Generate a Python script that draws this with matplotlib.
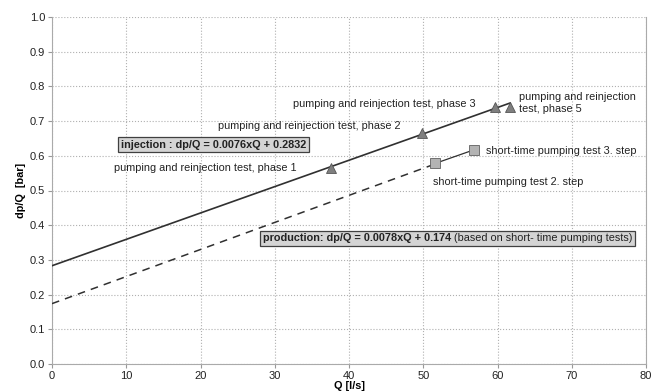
import matplotlib.pyplot as plt
import matplotlib.patches as mpatches
from matplotlib.transforms import Bbox, IdentityTransform
import numpy as np

plt.rcParams['font.family'] = ['Liberation Sans', 'DejaVu Sans']

# measured points
inj_q = [37.6, 49.8, 59.6, 61.7]
inj_dpq = [0.565, 0.665, 0.740, 0.740]
inj_names = ['pumping and reinjection test, phase 1',
             'pumping and reinjection test, phase 2',
             'pumping and reinjection test, phase 3',
             'pumping and reinjection\ntest, phase 5']

prod_q = [51.6, 56.8]
prod_dpq = [0.578, 0.617]
prod_names = ['short-time pumping test 2. step',
              'short-time pumping test 3. step']

# fitted lines
inj_slope, inj_icpt = 0.0076, 0.2832
prod_slope, prod_icpt = 0.0078, 0.174

fig = plt.figure(figsize=(6.58, 3.92), dpi=100)
ax = fig.add_axes([52/658, 1 - 364/392, 594/658, 347/392])

q = np.array([0, inj_q[-1]])
ax.plot(q, inj_slope*q + inj_icpt, color='#303030', lw=1.2, zorder=3)
q = np.array([0, prod_q[0]])
ax.plot(q, prod_slope*q + prod_icpt, color='#303030', lw=1.1, ls=(0, (5, 4)), zorder=3)
ax.plot(prod_q, prod_dpq, color='#303030', lw=0.9, zorder=3)

ax.plot(inj_q, inj_dpq, ls='none', marker='^', ms=7.5, mfc='#7f7f7f',
        mec='#555555', mew=0.6, zorder=4)
ax.plot(prod_q, prod_dpq, ls='none', marker='s', ms=7, mfc='#b3b3b3',
        mec='#606060', mew=0.6, zorder=4)

ax.set_xlim(0, 80)
ax.set_ylim(0, 1.0)
ax.set_xticks(np.arange(0, 81, 10))
ax.set_yticks(np.arange(0, 1.01, 0.1))
ax.yaxis.set_major_formatter(plt.FormatStrFormatter('%.1f'))

fs = 7.8
tc = '#222222'
# point labels
ax.text(33.0, inj_dpq[0], inj_names[0], fontsize=fs, ha='right', va='center', color=tc)
ax.text(46.9, 0.687, inj_names[1], fontsize=fs, ha='right', va='center', color=tc)
ax.text(57.0, 0.750, inj_names[2], fontsize=fs, ha='right', va='center', color=tc)
ax.text(62.9, 0.752, inj_names[3], fontsize=fs, ha='left', va='center', color=tc, linespacing=1.2)
ax.text(58.5, 0.615, prod_names[1], fontsize=fs, ha='left', va='center', color=tc)
ax.text(51.3, 0.524, prod_names[0], fontsize=fs, ha='left', va='center', color=tc)

box = dict(boxstyle='square,pad=0.25', fc='#d4d4d4', ec='#404040', lw=0.9)
ax.text(9.3, 0.632, 'injection : dp/Q = %.4fxQ + %.4f' % (inj_slope, inj_icpt),
        fontsize=fs, fontweight='bold', ha='left', va='center', bbox=box, color=tc, zorder=5)

# production box: bold equation + normal note, one frame around both
t1 = ax.text(28.4, 0.362, 'production: dp/Q = %.4fxQ + %.3f' % (prod_slope, prod_icpt),
             fontsize=fs, fontweight='bold', ha='left', va='center', color=tc, zorder=6)
t2 = ax.annotate(' (based on short- time pumping tests)', xy=(1, 0), xycoords=t1,
                 ha='left', va='bottom', fontsize=fs, color=tc, zorder=6)
fig.canvas.draw()
r = fig.canvas.get_renderer()
bb = Bbox.union([t1.get_window_extent(r), t2.get_window_extent(r)])
pad = 2.5
frame = mpatches.Rectangle((bb.x0 - pad, bb.y0 - pad), bb.width + 2*pad, bb.height + 2*pad,
                           transform=IdentityTransform(), fc='#d4d4d4', ec='#404040',
                           lw=0.9, zorder=5)
ax.add_artist(frame)

ax.tick_params(labelsize=8, colors='#999999', labelcolor=tc, length=3, width=0.8, pad=2)
ax.grid(True, color='#b0b0b0', ls=':', lw=0.8)
ax.set_axisbelow(True)
for s in ['left', 'bottom', 'right']:
    ax.spines[s].set_color('#aaaaaa')
ax.spines['top'].set_visible(False)

ax.set_xlabel('Q [l/s]', fontsize=fs, fontweight='bold', labelpad=0)
ax.set_ylabel('dp/Q  [bar]', fontsize=fs, fontweight='bold', labelpad=3)

fig.savefig('out.png', dpi=100)
